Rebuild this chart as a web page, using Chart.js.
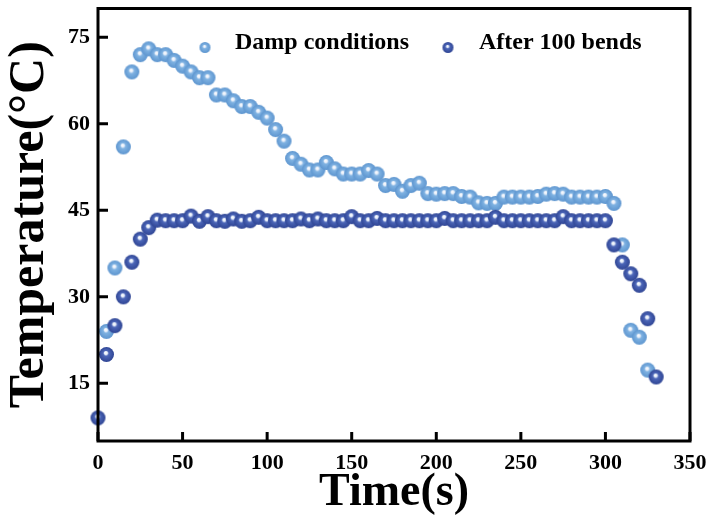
<!DOCTYPE html>
<html lang="en">
<head>
  <meta charset="UTF-8">
  <title>Temperature vs Time</title>
  <script src="https://cdn.jsdelivr.net/npm/chart.js"></script>
  <style>
    body { margin: 0; background: #fff; }
    canvas { display: block; }
  </style>
</head>
<body>
  <canvas id="tempChart" width="713" height="521"></canvas>

  <script>
    // data (time in s, temperature in °C)
    const dampTime = [5, 10, 15, 20, 25, 30, 35, 40, 45, 50, 55, 60, 65, 70, 75, 80, 85, 90, 95, 100,
      105, 110, 115, 120, 125, 130, 135, 140, 145, 150, 155, 160, 165, 170, 175, 180, 185, 190, 195, 200,
      205, 210, 215, 220, 225, 230, 235, 240, 245, 250, 255, 260, 265, 270, 275, 280, 285, 290, 295, 300,
      305, 310, 315, 320, 325];
    const dampTemp = [24, 35, 56, 69, 72, 73, 72, 72, 71, 70, 69, 68, 68, 65, 65, 64, 63, 63, 62, 61,
      59, 57, 54, 53, 52, 52, 53.3, 52.2, 51.3, 51.3, 51.3, 51.9, 51.3, 49.3, 49.5, 48.3, 49.3, 49.7, 47.9, 47.8,
      47.9, 47.9, 47.4, 47.3, 46.3, 46.2, 46.2, 47.3, 47.3, 47.3, 47.3, 47.4, 47.8, 47.9, 47.8, 47.3, 47.3, 47.3, 47.3, 47.4,
      46.2, 39, 24.2, 23, 17.3];

    const bendTime = [0, 5, 10, 15, 20, 25, 30, 35, 40, 45, 50, 55, 60, 65, 70, 75, 80, 85, 90, 95, 100,
      105, 110, 115, 120, 125, 130, 135, 140, 145, 150, 155, 160, 165, 170, 175, 180, 185, 190, 195, 200,
      205, 210, 215, 220, 225, 230, 235, 240, 245, 250, 255, 260, 265, 270, 275, 280, 285, 290, 295, 300,
      305, 310, 315, 320, 325, 330];
    const bendTemp = [9, 20, 25, 30, 36, 40, 42, 43.3, 43.2, 43.2, 43.2, 44, 43.1, 43.9, 43.2, 43.1, 43.5, 43.1, 43.2, 43.8, 43.2,
      43.2, 43.2, 43.2, 43.5, 43.2, 43.5, 43.2, 43.2, 43.2, 43.9, 43.2, 43.2, 43.6, 43.2, 43.2, 43.2, 43.2, 43.2, 43.2, 43.2,
      43.6, 43.2, 43.2, 43.2, 43.2, 43.2, 43.8, 43.2, 43.2, 43.2, 43.2, 43.2, 43.2, 43.2, 43.9, 43.2, 43.2, 43.2, 43.2, 43.2,
      39, 36, 34, 32, 26.2, 16.1];

    const xTicks = [0, 50, 100, 150, 200, 250, 300, 350];
    const yTicks = [15, 30, 45, 60, 75];

    const FONT = "'Liberation Serif', 'Times New Roman', serif";

    // shaded ball marker
    function sphere(r, base, edge) {
      const c = document.createElement('canvas');
      c.width = c.height = 2 * r + 2;
      const g = c.getContext('2d');
      const cx = r + 1, cy = r + 1;
      const grad = g.createRadialGradient(cx - r * 0.1, cy - r * 0.25, 0, cx, cy, r);
      grad.addColorStop(0, '#ffffff');
      grad.addColorStop(0.2, '#e6eefa');
      grad.addColorStop(0.38, base);
      grad.addColorStop(1, edge);
      g.fillStyle = grad;
      g.beginPath();
      g.arc(cx, cy, r, 0, Math.PI * 2);
      g.fill();
      return c;
    }
    const lightBall = sphere(7.5, '#7fb2e2', '#5d95cf');
    const darkBall = sphere(7.5, '#4c66b8', '#2f4594');
    const lightBallSmall = sphere(5.5, '#7fb2e2', '#5d95cf');
    const darkBallSmall = sphere(5.5, '#4c66b8', '#2f4594');

    // frame, inward ticks and in-plot legend
    const framePlugin = {
      id: 'frame',
      afterDraw(chart) {
        const { ctx, chartArea: a, scales } = chart;
        ctx.save();
        ctx.strokeStyle = '#000';
        ctx.lineWidth = 3;
        ctx.strokeRect(a.left, a.top, a.right - a.left, a.bottom - a.top);
        ctx.beginPath();
        xTicks.forEach(v => {
          const px = scales.x.getPixelForValue(v);
          ctx.moveTo(px, a.bottom); ctx.lineTo(px, a.bottom - 9);
        });
        yTicks.forEach(v => {
          const py = scales.y.getPixelForValue(v);
          ctx.moveTo(a.left, py); ctx.lineTo(a.left + 10, py);
        });
        ctx.stroke();

        ctx.font = 'bold 24px ' + FONT;
        ctx.fillStyle = '#000';
        ctx.textBaseline = 'alphabetic';
        const ds = chart.data.datasets;
        const ly = a.top + 39;
        ctx.drawImage(lightBallSmall, a.left + 107 - 6.5, ly - 6.5);
        ctx.fillText(ds[1].label, a.left + 137, ly + 1);
        ctx.drawImage(darkBallSmall, a.left + 350 - 6.5, ly - 6.5);
        ctx.fillText(ds[0].label, a.left + 381, ly + 1);
        ctx.restore();
      }
    };

    const ctx = document.getElementById('tempChart').getContext('2d');
    new Chart(ctx, {
      type: 'scatter',
      data: {
        datasets: [
          { label: 'After 100 bends', data: bendTime.map((t, i) => ({ x: t, y: bendTemp[i] })),
            pointStyle: darkBall, pointRadius: 7.5, order: 0, clip: false },
          { label: 'Damp conditions', data: dampTime.map((t, i) => ({ x: t, y: dampTemp[i] })),
            pointStyle: lightBall, pointRadius: 7.5, order: 1, clip: false }
        ]
      },
      options: {
        responsive: false,
        animation: false,
        devicePixelRatio: 1,
        layout: { padding: { top: 8, right: 23, left: 0, bottom: 0 } },
        plugins: { legend: { display: false }, tooltip: { enabled: false } },
        scales: {
          x: {
            type: 'linear', min: 0, max: 350,
            afterBuildTicks: s => { s.ticks = xTicks.map(v => ({ value: v })); },
            afterFit: s => { s.height = 80; s.paddingLeft = 0; s.paddingRight = 0; },
            grid: { display: false, drawTicks: false },
            border: { display: false },
            ticks: { color: '#000', padding: 9, font: { family: FONT, size: 22, weight: 'bold' } },
            title: { display: true, text: 'Time(s)', color: '#000', padding: 0,
              font: { family: FONT, size: 46, weight: 'bold' } }
          },
          y: {
            min: 5, max: 80,
            afterBuildTicks: s => { s.ticks = yTicks.map(v => ({ value: v })); },
            afterFit: s => { s.width = 98; s.paddingTop = 0; s.paddingBottom = 0; },
            grid: { display: false, drawTicks: false },
            border: { display: false },
            ticks: { color: '#000', padding: 8, font: { family: FONT, size: 22, weight: 'bold' } },
            title: { display: true, text: 'Temperature(°C)', color: '#000', padding: 0,
              font: { family: FONT, size: 50, weight: 'bold' } }
          }
        }
      },
      plugins: [framePlugin]
    });
  </script>
</body>
</html>
